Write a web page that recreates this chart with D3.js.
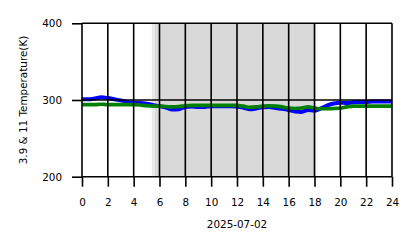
<!DOCTYPE html>
<html><head><meta charset="utf-8">
<script src="https://cdn.jsdelivr.net/npm/d3@7"></script>
<style>body{margin:0;background:#fff}svg{display:block}text{font-family:"DejaVu Sans",sans-serif;fill:#000}</style>
</head><body>
<script>
const hours = [0,0.5,1,1.5,2,2.5,3,3.5,4,4.5,5,5.5,6,6.5,7,7.5,8,8.5,9,9.5,10,10.5,11,11.5,12,12.5,13,13.5,14,14.5,15,15.5,16,16.5,17,17.5,18,18.5,19,19.5,20,20.5,21,21.5,22,22.5,23,23.5,24];
const band39 = [301,301,302,303.5,302.5,301,299.5,297.5,296.5,296,295,293.5,292,290,287.5,288,291,291.5,291,291,292,292,292,292,291.5,290,288,289,290.5,291,289.5,288.5,287,285,284.5,287,286,289,293,295.5,296.5,296,297,297.5,297.5,298,298,298,298];
const band11 = [294,294,294,294.5,294,294,294,294,294,293.5,292.5,292,292,291.5,291,291.5,292.5,293,293,293,293,293,293,293,293,292,290.5,291,292,292.5,292,291,289.5,289,289.5,291,289.5,288.5,288.5,289,289.5,291,292,292,292,292,292,292,292];
const xTicks = [0,2,4,6,8,10,12,14,16,18,20,22,24];
const yTicks = [200,300,400];
const nightStart = 5.4, dayStart = 5.65, dayEnd = 18.0, nightEnd = 18.15;
const xLabel = "2025-07-02";
const yLabel = "3.9 & 11 Temperature(K)";

const W = 418, H = 248;
const L = 82, R = 392, T = 23.3, B = 176.7;
const FS = 10.4;
const svg = d3.select("body").append("svg").attr("width", W).attr("height", H);
const x = d3.scaleLinear().domain([0,24]).range([L,R]);
const y = d3.scaleLinear().domain([200,400]).range([B,T]);

svg.append("rect").attr("x", x(nightStart)).attr("y", T).attr("width", x(nightEnd)-x(nightStart)).attr("height", B-T).attr("fill","#e8e8e8");
svg.append("rect").attr("x", x(dayStart)).attr("y", T).attr("width", x(dayEnd)-x(dayStart)).attr("height", B-T).attr("fill","#d9d9d9");

const line = d3.line().x((d,i)=>x(hours[i])).y(d=>y(d)).curve(d3.curveMonotoneX);
svg.append("path").datum(band39).attr("d", line).attr("fill","none").attr("stroke","#0000ff").attr("stroke-width",4);
svg.append("path").datum(band11).attr("d", line).attr("fill","none").attr("stroke","#008000").attr("stroke-width",3.6);

// grid
svg.append("g").selectAll("line").data(xTicks).join("line")
  .attr("x1", d=>x(d)).attr("x2", d=>x(d)).attr("y1", T).attr("y2", B)
  .attr("stroke","#000").attr("stroke-width",1.6);
svg.append("g").selectAll("line").data(yTicks).join("line")
  .attr("x1", L).attr("x2", R).attr("y1", d=>y(d)).attr("y2", d=>y(d))
  .attr("stroke","#000").attr("stroke-width",1.6);

const xAxis = svg.append("g").attr("transform",`translate(0,${B})`)
  .call(d3.axisBottom(x).tickValues(xTicks).tickSize(10).tickPadding(11.6).tickFormat(d3.format("d")));
const yAxis = svg.append("g").attr("transform",`translate(${L},0)`)
  .call(d3.axisLeft(y).tickValues(yTicks).tickSize(10).tickPadding(10).tickFormat(d3.format("d")));
[xAxis,yAxis].forEach(a=>{
  a.select(".domain").remove();
  a.selectAll(".tick line").attr("stroke","#000").attr("stroke-width",1.6);
  a.selectAll(".tick text").attr("font-size",FS).attr("font-family","DejaVu Sans").attr("fill","#000");
});

svg.append("text").attr("x",(L+R)/2).attr("y",227.7).attr("text-anchor","middle").attr("font-size",FS).text(xLabel);
svg.append("text").attr("transform",`translate(27,${(T+B)/2}) rotate(-90)`).attr("text-anchor","middle").attr("font-size",FS).text(yLabel);
</script>
</body></html>
